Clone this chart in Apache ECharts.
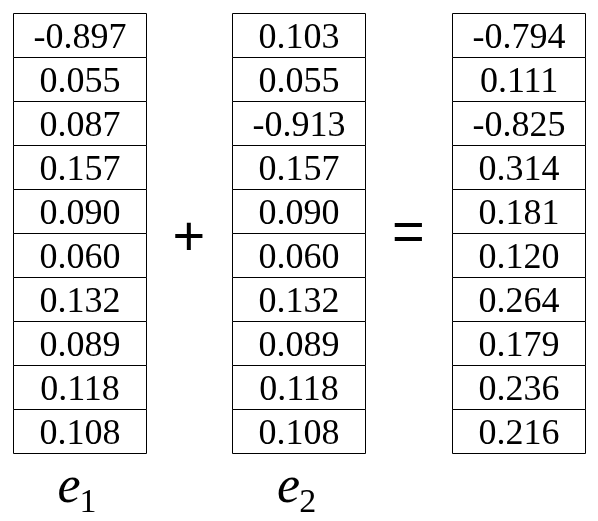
<!DOCTYPE html>
<html>
<head>
<meta charset="utf-8">
<script src="https://cdn.jsdelivr.net/npm/echarts@6/dist/echarts.min.js"></script>
<style>
html,body{margin:0;padding:0;background:#fff;}
#chart{width:598px;height:521px;}
</style>
</head>
<body>
<div id="chart"></div>
<script>
// Values
const e1Values  = [-0.897, 0.055, 0.087, 0.157, 0.090, 0.060, 0.132, 0.089, 0.118, 0.108];
const e2Values  = [0.103, 0.055, -0.913, 0.157, 0.090, 0.060, 0.132, 0.089, 0.118, 0.108];
const sumValues = [-0.794, 0.111, -0.825, 0.314, 0.181, 0.120, 0.264, 0.179, 0.236, 0.216];
const columns   = [e1Values, e2Values, sumValues];
const operators = ['+', '='];
const columnLabels = [['e', '1'], ['e', '2']];

const CELL_W = 0.606;   // cell width in x units
const SERIF = '"Liberation Serif", "DejaVu Serif", serif';
const OP_SHIFT = {'+': 6, '=': 1};  // glyph baseline correction (px)

const cellData = [];
columns.forEach((vals, c) => vals.forEach((v, r) => cellData.push([c, r, v])));
const opData = operators.map((op, i) => [i + 0.5, 5, op]);
const labelData = columnLabels.map((l, i) => [i, 10.92, l[0], l[1]]);

const chart = echarts.init(document.getElementById('chart'), null, {renderer: 'canvas'});
chart.setOption({
  animation: false,
  backgroundColor: '#ffffff',
  grid: {left: 12.5, top: 13.3, width: 572.3, height: 506},
  xAxis: {type: 'value', min: -0.303, max: 2.303, show: false},
  yAxis: {type: 'value', min: 0, max: 11.5, inverse: true, show: false},
  series: [
    {
      type: 'custom',
      data: cellData,
      clip: false,
      renderItem: function (params, api) {
        const c = api.value(0), r = api.value(1), v = api.value(2);
        const p = api.coord([c - CELL_W / 2, r]);
        const s = api.size([CELL_W, 1]);
        const x = Math.round(p[0]) + 0.5, y = Math.round(p[1]) + 0.5;
        return {
          type: 'group',
          children: [
            {type: 'rect', shape: {x: x, y: y, width: Math.round(s[0]), height: s[1]},
             style: {fill: '#ffffff', stroke: '#000000', lineWidth: 1}},
            {type: 'text', x: x + s[0] / 2, y: y + s[1] / 2 + 3.5,
             style: {text: v.toFixed(3), font: '36px ' + SERIF, fill: '#000000',
                     align: 'center', verticalAlign: 'middle'}}
          ]
        };
      }
    },
    {
      type: 'custom',
      data: opData,
      clip: false,
      renderItem: function (params, api) {
        const p = api.coord([api.value(0), api.value(1)]);
        const op = opData[params.dataIndex][2];
        return {type: 'text', x: p[0], y: p[1] + OP_SHIFT[op],
          style: {text: op, font: '56px "Liberation Sans", "DejaVu Sans", sans-serif',
                  fill: '#000000', align: 'center', verticalAlign: 'middle'}};
      }
    },
    {
      type: 'custom',
      data: labelData,
      clip: false,
      renderItem: function (params, api) {
        const p = api.coord([api.value(0), api.value(1)]);
        const d = labelData[params.dataIndex];
        return {
          type: 'group',
          children: [
            {type: 'text', x: p[0] - 10, y: p[1] - 5,
             style: {text: d[2], font: 'italic 52px ' + SERIF, fill: '#000000',
                     align: 'center', verticalAlign: 'middle'}},
            {type: 'text', x: p[0] + 9, y: p[1] + 9,
             style: {text: d[3], font: '34px ' + SERIF, fill: '#000000',
                     align: 'center', verticalAlign: 'middle'}}
          ]
        };
      }
    }
  ]
});
</script>
</body>
</html>
